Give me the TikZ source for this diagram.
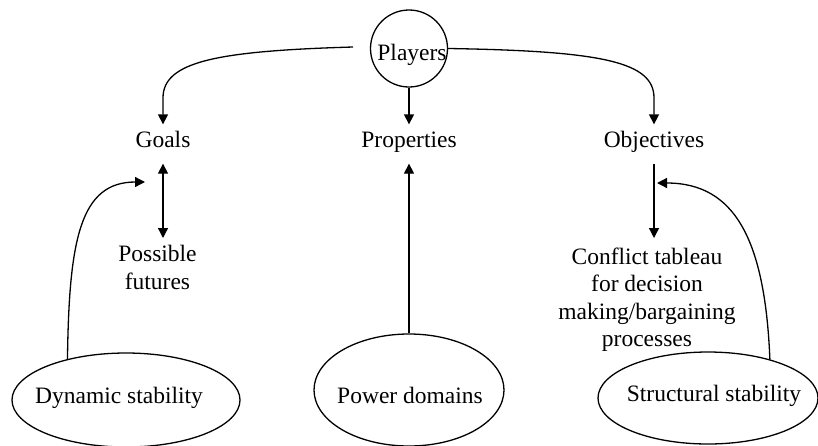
\documentclass[tikz,border=0pt]{standalone}
\usepackage{fontspec}
\setmainfont{Liberation Serif}
\usetikzlibrary{arrows.meta,shapes.geometric}
\begin{document}
\begin{tikzpicture}[x=1pt,y=-1pt,
  line width=1.3pt,
  >={Triangle[length=10pt,width=10pt]},
  arr/.style={->},
  darr/.style={<->},
  oval/.style={draw,ellipse,inner sep=0pt},
  lbl/.style={font=\fontsize{23.5pt}{27.5pt}\selectfont,inner xsep=0pt,inner ysep=0pt,anchor=base},
  tag/.style={lbl,inner ysep=6pt,text height=16pt,text depth=10pt},
  block/.style={lbl,anchor=north,align=center}]

% canvas
\useasboundingbox[fill=white] (0,0) rectangle (818,445);

% top: players
\node[draw,circle,minimum size=77pt,inner sep=0pt] (players) at (409,48.5) {};
\node[lbl] (playerstext) at (412,60) {Players};
\coordinate (pl) at (353,47);

% middle row
\node[tag] (goals) at (163,147) {Goals};
\node[tag] (props) at (409,147) {Properties};
\node[tag] (obj) at (654,147) {Objectives};

\node[block] (poss) at (157.5,245) {Possible\\futures};
\node[block] (conf) at (647,247) {Conflict tableau\\for decision\\making/bargaining\\processes};

% bottom row
\node[oval,minimum width=228pt,minimum height=94pt] (dyn) at (126,400) {};
\node[lbl] (dyntext) at (119,403) {Dynamic stability};
\node[oval,minimum width=190pt,minimum height=112pt] (pow) at (409,390) {};
\node[lbl] (powtext) at (410,403) {Power domains};
\node[oval,minimum width=220pt,minimum height=92pt] (str) at (708,398) {};
\node[lbl] (strtext) at (714,401) {Structural stability};

% ends of the feedback arrows
\coordinate (gin) at (145,182);
\coordinate (oin) at (657,183);

% connectors
\draw[arr] (pl) .. controls (215,51) and (163,62) .. (163,98) -- (goals.north);
\draw[arr] (players.east) .. controls (603,51) and (654,62) .. (654,98) -- (obj.north);
\draw[arr] (players.south) -- (props.north);
\draw[darr] (goals.south) -- ([yshift=7pt]goals.south |- poss.north);
\draw[arr] (obj.south) -- ([yshift=9pt]obj.south |- conf.north);
\draw[arr] (pow.north) -- (props.south);
\draw[arr] (dyn.145) .. controls (69,240) and (80,182) .. (gin);
\draw[arr] (str.32) .. controls (765,240) and (735,183) .. (oin);
\end{tikzpicture}
\end{document}
